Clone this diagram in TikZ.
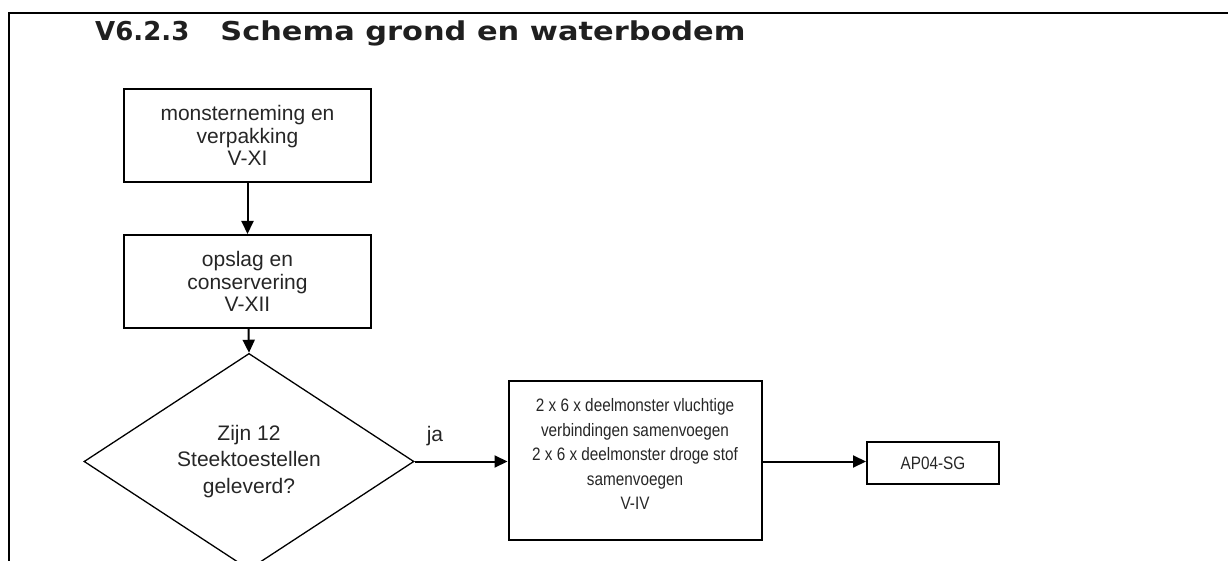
\documentclass[tikz,border=0pt]{standalone}
\usepackage{graphicx}
\usepackage{fontspec}
\setmainfont{Liberation Sans}
\newfontfamily\titlefont{DejaVu Sans}
\newfontfamily\narrowfont[FakeStretch=0.85]{Liberation Sans}
\usetikzlibrary{arrows.meta,shapes.geometric}
\tikzset{
  boxnode/.style={draw=black,line width=2pt,align=center,inner sep=2pt,
    font=\fontsize{21}{22.5}\selectfont,text=black!85},
  narrowbox/.style={boxnode,font=\narrowfont\fontsize{18}{24.5}\selectfont},
  decision/.style={draw=black,line width=1.3pt,diamond,align=center,inner sep=0pt,
    minimum width=330pt,minimum height=173pt,font=\fontsize{21}{26.5}\selectfont,text=black!85},
  flow/.style={line width=2pt,-{Triangle[length=13pt,width=12pt]}},
  frame/.style={line width=2.2pt}
}
\begin{document}
\begin{tikzpicture}[x=1pt,y=-1pt]
\useasboundingbox (0,0) rectangle (1228,561);
\coordinate (ftl) at (9,13);
\coordinate (ftr) at (1228,13);
\coordinate (fbl) at (9,561);
\draw[frame] (fbl) -- (ftl) -- (ftr);
\node[anchor=base west,inner sep=0pt,font=\titlefont\bfseries\fontsize{26}{30}\selectfont,text=black!88] (title) at (95,41) {V6.2.3\hspace{31pt}\scalebox{1.17}[1]{Schema grond en waterbodem}};
\node[boxnode,minimum width=247pt,minimum height=93pt] (b1) at (247.5,135.5) {monsterneming en\\verpakking\\V-XI};
\node[boxnode,minimum width=247pt,minimum height=93pt] (b2) at (247.5,281.5) {opslag en\\conservering\\V-XII};
\node[decision] (d) at (249,461.5) {Zijn 12\\Steektoestellen\\geleverd?};
\node[narrowbox,minimum width=253pt,minimum height=159pt] (b3) at (635,460.5) {2 x 6 x deelmonster vluchtige\\verbindingen samenvoegen\\2 x 6 x deelmonster droge stof\\samenvoegen\\V-IV\rule[-13pt]{0pt}{1pt}};
\node[narrowbox,minimum width=132pt,minimum height=42pt] (ap) at (933,463) {AP04-SG};
\node[font=\fontsize{21}{23}\selectfont,text=black!85] (ja) at (435,436) {ja};
\coordinate (dend) at (249,561);
\draw[flow] (b1) -- (b2);
\draw[flow] (b2) -- (d.north);
\draw[flow] (d.east) -- (b3.west |- d.east);
\draw[flow] (b3.east |- d.east) -- (ap.west |- d.east);
\draw[line width=2pt] (d.south) -- (dend);
\end{tikzpicture}
\end{document}
